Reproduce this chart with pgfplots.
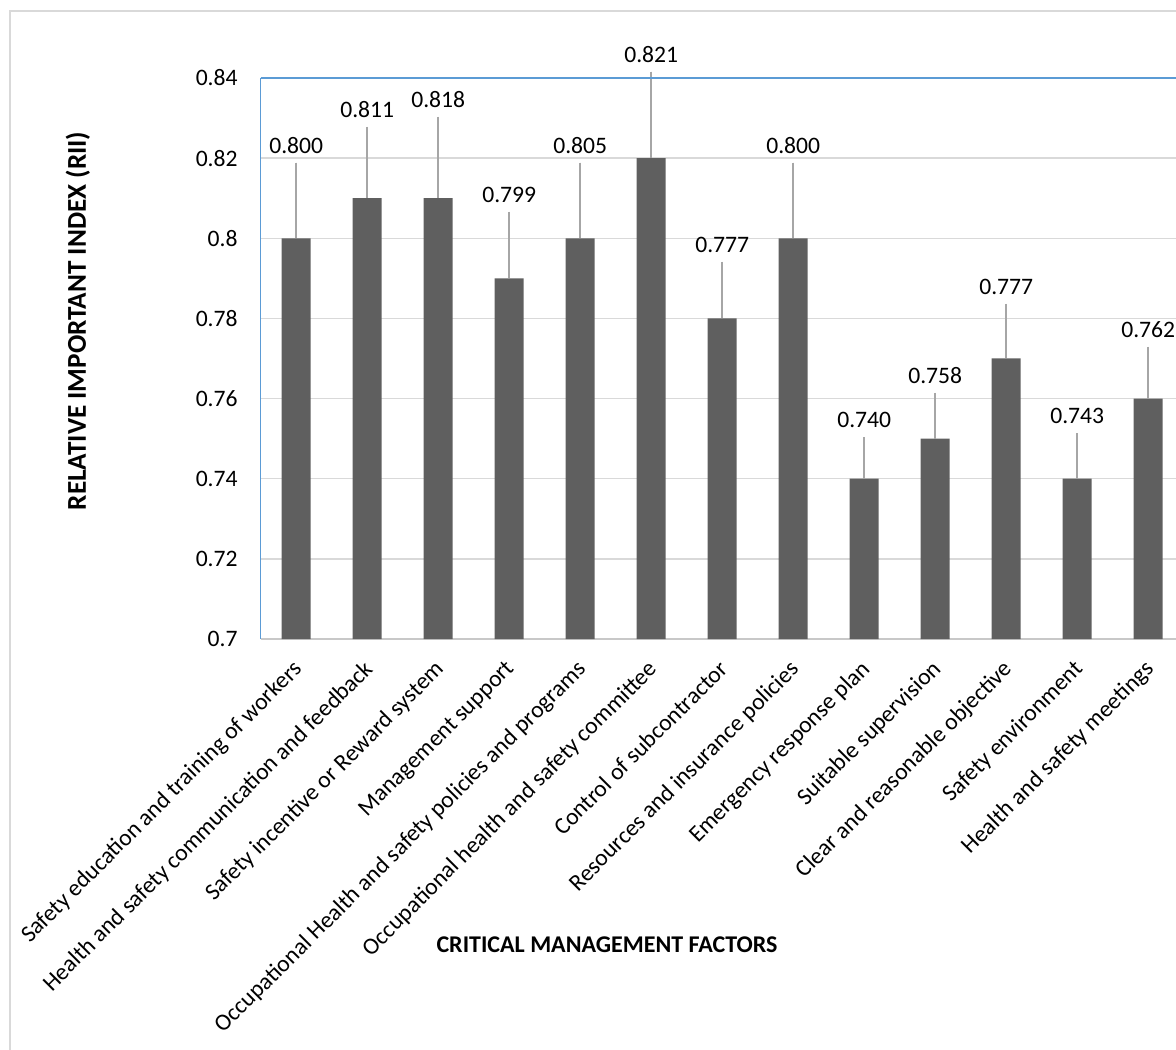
\documentclass[border=0pt]{standalone}
\usepackage{pgfplots}
\pgfplotsset{compat=1.18}
\usepackage{pgfplotstable}
\usepackage{fontspec}
\setmainfont{Carlito}
\definecolor{barc}{RGB}{95,95,95}
\definecolor{leadc}{RGB}{166,166,166}
\definecolor{gridc}{RGB}{217,217,217}
\definecolor{xblue}{RGB}{91,155,213}
\definecolor{framec}{RGB}{217,217,217}
\definecolor{axc}{RGB}{200,200,200}
\pgfplotstableread{
x y e top lab
0  0.80 0.0189 0.8189 0.800
1  0.81 0.0178 0.8278 0.811
2  0.81 0.0203 0.8303 0.818
3  0.79 0.0166 0.8066 0.799
4  0.80 0.0189 0.8189 0.805
5  0.82 0.0216 0.8416 0.821
6  0.78 0.0141 0.7941 0.777
7  0.80 0.0189 0.8189 0.800
8  0.74 0.0104 0.7504 0.740
9  0.75 0.0114 0.7614 0.758
10 0.77 0.0136 0.7836 0.777
11 0.74 0.0114 0.7514 0.743
12 0.76 0.0129 0.7729 0.762
}\datatab
\begin{document}
\begin{tikzpicture}
\useasboundingbox (0,0) rectangle (588bp,525bp);
\clip (0,0) rectangle (588bp,525bp);
\draw[framec, line width=0.75bp] (5bp,0) -- (5bp,519.5bp) -- (600bp,519.5bp);
\begin{axis}[
  at={(130.35bp,205.5bp)}, anchor=south west,
  width=461.5bp, height=280.5bp, scale only axis,
  xmin=-0.5, xmax=12.5, ymin=0.7, ymax=0.84,
  clip=false,
  axis x line*=bottom, axis y line*=left,
  x axis line style={-, draw=axc, line width=0.75bp},
  y axis line style={-, draw=xblue, line width=0.75bp},
  major tick length=0pt,
  ymajorgrids, grid style={draw=gridc, line width=0.75bp},
  ytick={0.7,0.72,0.74,0.76,0.78,0.8,0.82,0.84},
  yticklabels={0.7,0.72,0.74,0.76,0.78,0.8,0.82,0.84},
  yticklabel style={font=\fontsize{11.8bp}{14bp}\selectfont, inner sep=0pt, xshift=-11.35bp},
  xtick={0,...,12},
  xticklabels={Safety education and training of workers,
    Health and safety communication and feedback,
    Safety incentive or Reward system,
    Management support,
    Occupational Health and safety policies and programs,
    Occupational health and safety committee,
    Control of subcontractor,
    Resources and insurance policies,
    Emergency response plan,
    Suitable supervision,
    Clear and reasonable objective,
    Safety environment,
    Health and safety meetings},
  xticklabel style={font=\fontsize{11.8bp}{14bp}\selectfont, rotate=45, anchor=north east, inner xsep=8.4bp, inner ysep=5.2bp},
  ylabel={RELATIVE IMPORTANT INDEX (RII)},
  ylabel style={at={(axis description cs:-0.198,0.567)}, anchor=center, rotate=0, font=\bfseries\fontsize{13.6bp}{16bp}\selectfont},
  xlabel={CRITICAL MANAGEMENT FACTORS},
  xlabel style={at={(axis description cs:0.3752,-0.545)}, anchor=center, font=\bfseries\fontsize{12bp}{14bp}\selectfont},
]
\addplot[ybar, bar width=14.5bp, fill=barc, draw=none,
  error bars/.cd, y dir=plus, y explicit, error mark=none,
  error bar style={draw=leadc, line width=0.75bp}]
  table[x=x, y=y, y error=e] {\datatab};
\addplot[draw=none, mark=none, nodes near coords, point meta=explicit symbolic,
  every node near coord/.append style={anchor=base, yshift=4.75bp, inner sep=0pt, font=\fontsize{11.8bp}{14bp}\selectfont, text=black}]
  table[x=x, y=top, meta=lab] {\datatab};
\draw[xblue, line width=0.75bp] (rel axis cs:0,1) -- (rel axis cs:1,1);
\end{axis}
\end{tikzpicture}
\end{document}
